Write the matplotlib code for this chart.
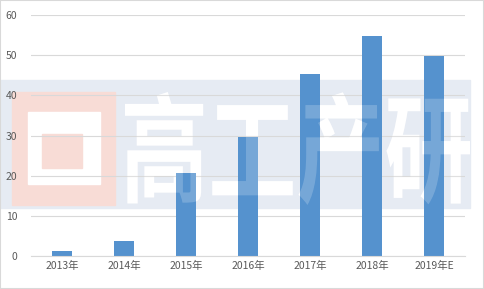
import matplotlib.pyplot as plt
from matplotlib.patches import Rectangle, PathPatch
from matplotlib.textpath import TextPath
from matplotlib.font_manager import FontProperties
from matplotlib.transforms import Affine2D

plt.rcParams['font.family'] = ['Noto Sans CJK SC', 'DejaVu Sans']

years = ['2013年', '2014年', '2015年', '2016年', '2017年', '2018年', '2019年E']
values = [1.2, 3.7, 20.7, 29.7, 45.3, 54.7, 49.7]

fig = plt.figure(figsize=(4.84, 2.89), dpi=100)
ax = fig.add_axes([0.064, 0.114, 0.897, 0.834])
ax.patch.set_alpha(0)

x = range(len(years))
ax.bar(x, values, width=0.32, color='#5592ce', zorder=2)
ax.set_xlim(-0.5, len(years) - 0.5)
ax.set_ylim(0, 60)
ax.set_yticks(range(0, 61, 10))
ax.set_xticks(list(x))
ax.set_xticklabels(years)
ax.grid(axis='y', color='#d9d9d9', linewidth=0.8, zorder=0)
for s in ['top', 'right', 'left']:
    ax.spines[s].set_visible(False)
ax.spines['bottom'].set_color('#d9d9d9')
ax.tick_params(length=0, labelsize=7.5, colors='#595959')
ax.tick_params(axis='y', pad=10)

# watermark band behind the chart
W, H = 484, 289
fig.patches.append(Rectangle((0, 1 - 208 / H), 470 / W, 128 / H,
                             transform=fig.transFigure, color='#e6ebf3',
                             zorder=-3))
# logo
fig.patches.append(Rectangle((12 / W, 1 - 205 / H), 103 / W, 113 / H,
                             transform=fig.transFigure, color='#f8dcd6',
                             zorder=-2))
fig.patches.append(Rectangle((28 / W, 1 - 184 / H), 72 / W, 72 / H,
                             transform=fig.transFigure, color='white',
                             zorder=-1))
fig.patches.append(Rectangle((42 / W, 1 - 168 / H), 40 / W, 34 / H,
                             transform=fig.transFigure, color='#f8dcd6',
                             zorder=-1))

# watermark text stretched into its box
tp = TextPath((0, 0), '高工产研', size=1,
              prop=FontProperties(family='Noto Sans CJK SC', weight='bold'))
ext = tp.get_extents()
bx0, bx1 = 125 / W, 470 / W
by0, by1 = 1 - 205 / H, 1 - 92 / H
sx = (bx1 - bx0) / ext.width
sy = (by1 - by0) / ext.height
tr = (Affine2D().translate(-ext.x0, -ext.y0).scale(sx, sy)
      .translate(bx0, by0) + fig.transFigure)
fig.patches.append(PathPatch(tp, transform=tr, color='white', lw=0,
                             zorder=-0.5))
fig.patches.append(PathPatch(tp, transform=tr, color='white', lw=0,
                             alpha=0.2, zorder=9))

# thin frame around the image
fig.patches.append(Rectangle((0, 0), 1, 1, transform=fig.transFigure,
                             fill=False, edgecolor='#d9d9d9', linewidth=1.5,
                             zorder=10))

fig.savefig('out.png', dpi=100)
